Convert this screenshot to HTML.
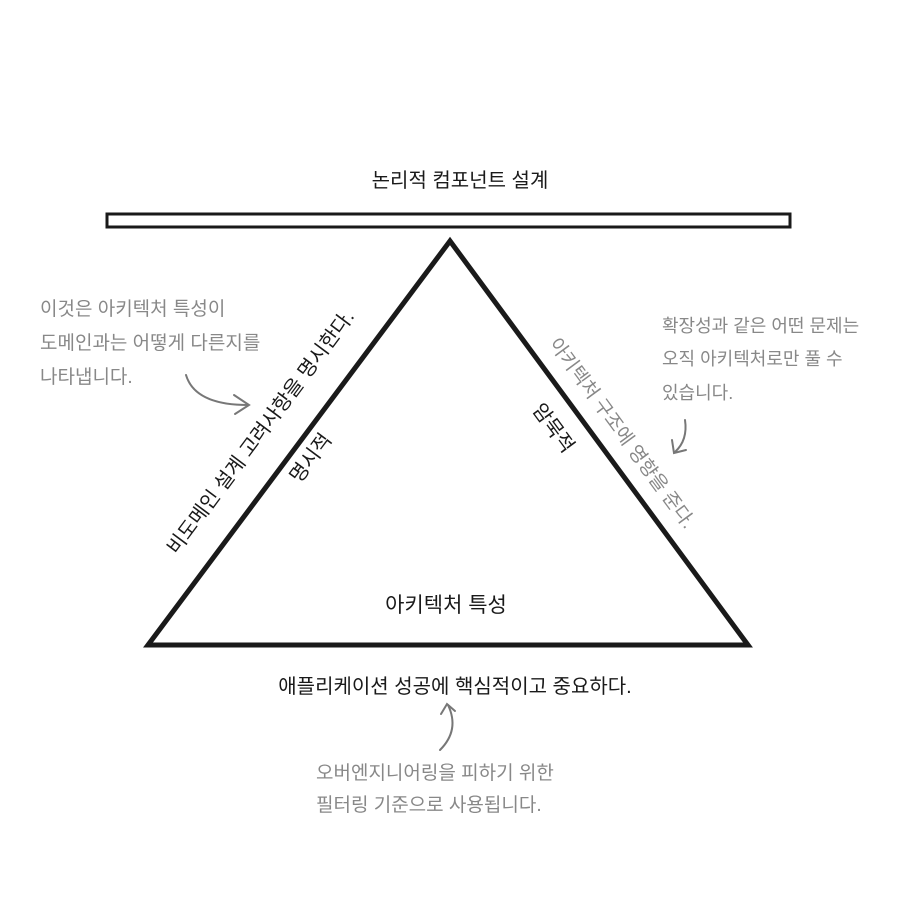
<!DOCTYPE html>
<html><head><meta charset="utf-8"><style>
html,body{margin:0;padding:0;background:#fff;}
svg{display:block}
text{font-family:"Liberation Sans","Noto Sans CJK KR","NanumGothic",sans-serif;}
.b{fill:#1a1a1a;}
.g{fill:#888;}
</style></head><body>
<svg width="900" height="900" viewBox="0 0 900 900">
<rect x="0" y="0" width="900" height="900" fill="#fff"/>
<text class="b" x="460" y="187" font-size="20" text-anchor="middle">논리적 컴포넌트 설계</text>
<rect x="107" y="214" width="683" height="13" fill="none" stroke="#1a1a1a" stroke-width="3"/>
<polygon points="450,241 148,645 748,645" fill="none" stroke="#1a1a1a" stroke-width="5" stroke-linejoin="miter"/>
<text class="b" font-size="20" text-anchor="middle" transform="translate(266,436) rotate(-53.3)">비도메인 설계 고려사항을 명시한다.</text>
<text class="b" font-size="20" text-anchor="middle" transform="translate(316,462) rotate(-53.3)">명시적</text>
<text class="b" font-size="20" text-anchor="middle" transform="translate(548,432) rotate(53.6)">암묵적</text>
<text class="g" font-size="19" text-anchor="middle" transform="translate(617,437) rotate(53.6)">아키텍처 구조에 영향을 준다.</text>
<text class="b" x="446" y="612" font-size="21" text-anchor="middle">아키텍처 특성</text>
<text class="b" x="455" y="693" font-size="20" text-anchor="middle">애플리케이션 성공에 핵심적이고 중요하다.</text>
<g class="g" font-size="19">
<text x="40" y="315">이것은 아키텍처 특성이</text>
<text x="40" y="349">도메인과는 어떻게 다른지를</text>
<text x="40" y="383">나타냅니다.</text>
<text x="316" y="779">오버엔지니어링을 피하기 위한</text>
<text x="316" y="811">필터링 기준으로 사용됩니다.</text>
</g>
<g class="g" font-size="18">
<text x="662" y="332">확장성과 같은 어떤 문제는</text>
<text x="662" y="365">오직 아키텍처로만 풀 수</text>
<text x="662" y="399">있습니다.</text>
</g>
<g fill="none" stroke="#777" stroke-width="2" stroke-linecap="round">
<path d="M186,375 Q195,405 248,405"/>
<path d="M234,395 L249,405 L235,414"/>
<path d="M685,420 Q688,440 675,452"/>
<path d="M672,440 L674,453 L686,450"/>
<path d="M440,750 Q460,730 448,705"/>
<path d="M441,714 L447,704 L455,711"/>
</g>
</svg>
</body></html>
